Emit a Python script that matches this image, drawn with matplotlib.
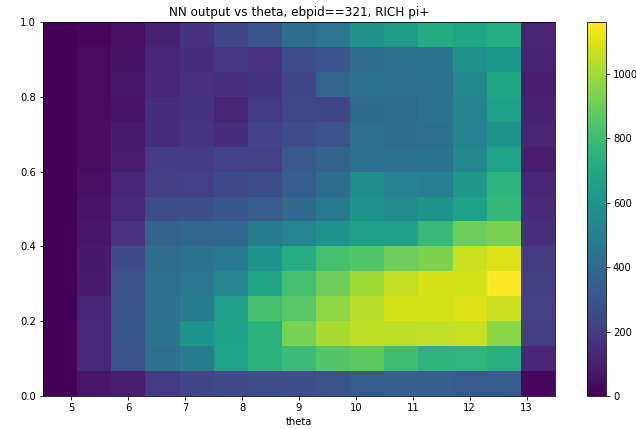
import numpy as np
import matplotlib
matplotlib.use('Agg')
import matplotlib.pyplot as plt

# bin edges of the 2d histogram (theta along x, NN output along y)
x_edges = np.linspace(4.5, 13.5, 16)
y_edges = np.linspace(0.0, 1.0, 16)

# counts per bin, rows listed from the top bin (y ~ 1.0) down to the bottom bin (y ~ 0)
counts_top_down = [
    [8, 14, 46, 104, 170, 240, 310, 410, 450, 580, 630, 715, 690, 720, 115],
    [8, 32, 55, 120, 150, 185, 175, 270, 290, 410, 430, 445, 580, 620, 110],
    [6, 35, 70, 125, 165, 160, 170, 235, 370, 430, 420, 430, 540, 690, 90],
    [6, 38, 60, 150, 170, 115, 195, 245, 240, 400, 410, 440, 520, 660, 105],
    [6, 40, 85, 150, 175, 150, 230, 270, 290, 420, 405, 425, 515, 590, 115],
    [6, 40, 95, 200, 200, 220, 215, 315, 365, 425, 430, 440, 545, 670, 95],
    [6, 46, 120, 205, 210, 260, 270, 335, 410, 570, 510, 490, 620, 750, 125],
    [6, 62, 135, 270, 280, 310, 335, 390, 470, 590, 560, 600, 665, 770, 140],
    [6, 68, 175, 360, 380, 380, 480, 530, 600, 650, 650, 780, 900, 925, 160],
    [5, 80, 260, 410, 440, 470, 600, 720, 820, 845, 900, 930, 1065, 1100, 195],
    [5, 85, 290, 420, 460, 530, 680, 820, 900, 1000, 1055, 1090, 1080, 1160, 205],
    [5, 120, 300, 420, 480, 650, 820, 860, 965, 1030, 1080, 1080, 1100, 1065, 210],
    [5, 130, 310, 440, 600, 660, 740, 920, 1010, 1044, 1045, 1050, 1060, 960, 205],
    [5, 130, 290, 420, 480, 670, 740, 790, 850, 870, 800, 750, 755, 725, 120],
    [5, 64, 90, 195, 235, 250, 267, 278, 290, 325, 345, 345, 335, 330, 25],
]

counts = np.array(counts_top_down[::-1])

fig = plt.figure(figsize=(636 / 72, 429 / 72), dpi=72)
ax = fig.add_axes([43 / 636, 33 / 429, 512 / 636, 374 / 429])
cax = fig.add_axes([587 / 636, 33 / 429, 19 / 636, 374 / 429])

mesh = ax.pcolormesh(x_edges, y_edges, counts, cmap='viridis', vmin=0, vmax=1160)
ax.set_xlim(4.5, 13.5)
ax.set_ylim(0, 1)
ax.set_xlabel('theta')
ax.set_title('NN output vs theta, ebpid==321, RICH pi+')

cb = fig.colorbar(mesh, cax=cax)
cb.set_ticks([0, 200, 400, 600, 800, 1000])

fig.savefig('out.png', dpi=72)
